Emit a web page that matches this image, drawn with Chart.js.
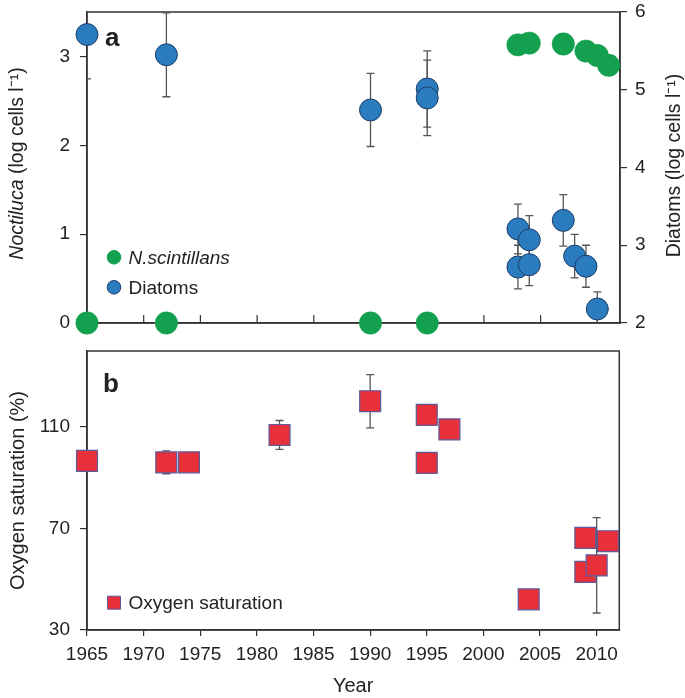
<!DOCTYPE html>
<html>
<head>
<meta charset="utf-8">
<script src="https://cdn.jsdelivr.net/npm/chart.js@4.4.1/dist/chart.umd.min.js"></script>
<style>
  html, body { margin: 0; padding: 0; background: #fff; }
  #wrap { position: relative; width: 685px; height: 698px; }
  .panel { position: absolute; left: 0; width: 685px; }
  #topBox { top: 0; height: 340px; }
  #botBox { top: 335px; height: 363px; }
</style>
</head>
<body>
<div id="wrap">
  <div class="panel" id="topBox"><canvas id="topChart"></canvas></div>
  <div class="panel" id="botBox"><canvas id="botChart"></canvas></div>
</div>
<script>
// panel a: Noctiluca (left axis) and diatoms (right axis)
const noctiYears  = [1965, 1972, 1990, 1995, 2003, 2004, 2007, 2009, 2010, 2011];
const noctiValues = [0, 0, 0, 0, 3.13, 3.15, 3.14, 3.06, 3.01, 2.90];

const diatomYears  = [1965, 1972, 1990, 1995, 1995, 2003, 2003, 2004, 2004, 2007, 2008, 2009, 2010];
const diatomValues = [5.71, 5.45, 4.74, 5.01, 4.895, 3.21, 2.72, 3.07, 2.75, 3.32, 2.86, 2.73, 2.18];
const diatomErrors = [0.57, 0.54, 0.47, 0.49, 0.485, 0.32, 0.28, 0.31, 0.27, 0.33, 0.28, 0.27, 0.22];

// panel b: oxygen saturation
const oxyYears  = [1965, 1972, 1974, 1982, 1990, 1995, 1995, 1997, 2004, 2009, 2009, 2010, 2011];
const oxyValues = [96.7, 96.1, 96.1, 106.9, 120.2, 114.8, 95.9, 109.1, 42.1, 66.3, 52.9, 55.5, 65.0];
const oxyErrors = [0, 4.5, 0, 5.7, 10.5, 0, 0, 0, 0, 0, 0, 18.8, 0];

const yearTicks   = [1965, 1970, 1975, 1980, 1985, 1990, 1995, 2000, 2005, 2010];
const noctiTicks  = [0, 1, 2, 3];
const diatomTicks = [2, 3, 4, 5, 6];
const oxyTicks    = [30, 70, 110];

const FONT = "'Liberation Sans', Arial, Helvetica, sans-serif";
const AXIS = "#333";
const TEXT = "#222";
const GREEN = "#13a04f";
const BLUE = "#2b7bbf";
const BLUE_EDGE = "#1b3d68";
const RED = "#e8303a";
const RED_EDGE = "#5d5a9c";

Chart.defaults.font.family = FONT;
Chart.defaults.font.size = 19;
Chart.defaults.color = TEXT;

const toPoints = (xs, ys) => xs.map((x, i) => ({ x, y: ys[i] }));
const setTicks = list => scale => { scale.ticks = list.map(v => ({ value: v })); };
const fixW = w => scale => { scale.width = w; scale.paddingTop = 0; scale.paddingBottom = 0; };
const fixH = h => scale => { scale.height = h; scale.paddingLeft = 0; scale.paddingRight = 0; };
const plain = v => String(v);

const yAxis = (pos, min, max, ticks, width, pad) => ({
    type: "linear", position: pos, min, max,
    afterBuildTicks: setTicks(ticks),
    afterFit: fixW(width),
    grid: { drawOnChartArea: false, tickLength: 7, color: AXIS, lineWidth: 1.2 },
    border: { color: AXIS, width: 1.5 },
    ticks: { padding: pad, color: TEXT, callback: plain }
});

// error bars, frame, inner ticks, labels, legend
const decorPlugin = {
    id: "decor",
    beforeDatasetsDraw(chart, args, opts) {
        const { ctx, chartArea: a } = chart;
        ctx.save();
        ctx.strokeStyle = AXIS;
        ctx.lineWidth = 1.5;
        ctx.strokeRect(a.left, a.top, a.right - a.left, a.bottom - a.top);

        if (opts.innerTicks) {
            const xs = chart.scales.x;
            ctx.lineWidth = 1.2;
            yearTicks.slice(1).forEach(v => {
                const px = xs.getPixelForValue(v);
                ctx.beginPath();
                ctx.moveTo(px, a.bottom);
                ctx.lineTo(px, a.bottom - 8);
                ctx.stroke();
            });
        }

        // error bars behind the markers
        ctx.beginPath();
        ctx.rect(a.left, a.top, a.right - a.left, a.bottom - a.top);
        ctx.clip();
        ctx.strokeStyle = "#555";
        ctx.lineWidth = 1.3;
        chart.data.datasets.forEach((ds, di) => {
            if (!ds.errors) return;
            const meta = chart.getDatasetMeta(di);
            const ys = chart.scales[ds.yAxisID];
            ds.data.forEach((p, i) => {
                const e = ds.errors[i];
                if (!e) return;
                const px = meta.data[i].x;
                const top = ys.getPixelForValue(p.y + e);
                const bot = ys.getPixelForValue(p.y - e);
                ctx.beginPath();
                ctx.moveTo(px, top); ctx.lineTo(px, bot);
                ctx.moveTo(px - 4, top); ctx.lineTo(px + 4, top);
                ctx.moveTo(px - 4, bot); ctx.lineTo(px + 4, bot);
                ctx.stroke();
            });
        });
        ctx.restore();
    },
    afterDraw(chart, args, opts) {
        const { ctx, chartArea: a } = chart;
        ctx.save();
        ctx.fillStyle = TEXT;

        // panel letter
        ctx.font = `bold 26px ${FONT}`;
        ctx.textBaseline = "alphabetic";
        ctx.textAlign = "left";
        ctx.fillText(opts.letter.text, a.left + opts.letter.dx, a.top + opts.letter.dy);

        // rotated titles with mixed styles
        (opts.titles || []).forEach(t => {
            ctx.save();
            ctx.translate(t.x, (a.top + a.bottom) / 2 + t.dy);
            ctx.rotate(-Math.PI / 2);
            let total = 0;
            t.parts.forEach(p => { ctx.font = p.font; p.w = ctx.measureText(p.text).width; total += p.w; });
            let cx = -total / 2;
            ctx.textBaseline = "middle";
            ctx.textAlign = "left";
            t.parts.forEach(p => { ctx.font = p.font; ctx.fillText(p.text, cx, 0); cx += p.w; });
            ctx.restore();
        });

        // legend
        opts.legend.forEach(item => {
            const mx = a.left + 27, my = a.bottom + item.dy;
            ctx.beginPath();
            if (item.shape === "rect") ctx.rect(mx - 6.5, my - 6.5, 13, 13);
            else ctx.arc(mx, my, 6.8, 0, Math.PI * 2);
            ctx.fillStyle = item.fill;
            ctx.fill();
            ctx.lineWidth = 1;
            ctx.strokeStyle = item.edge;
            ctx.stroke();
            ctx.fillStyle = TEXT;
            ctx.font = item.font;
            ctx.textBaseline = "middle";
            ctx.fillText(item.label, a.left + 41.5, my + 1);
        });
        ctx.restore();
    }
};

// Top chart (panel a)
new Chart(document.getElementById("topChart"), {
    type: "scatter",
    data: {
        datasets: [
            {
                label: "N.scintillans", yAxisID: "yL",
                data: toPoints(noctiYears, noctiValues),
                pointRadius: 11.2, backgroundColor: GREEN, borderColor: GREEN, borderWidth: 0.5,
                clip: false
            },
            {
                label: "Diatoms", yAxisID: "yR",
                data: toPoints(diatomYears, diatomValues), errors: diatomErrors,
                pointRadius: 11, backgroundColor: BLUE, borderColor: BLUE_EDGE, borderWidth: 1,
                clip: false
            }
        ]
    },
    options: {
        animation: false, responsive: true, maintainAspectRatio: false, events: [],
        layout: { padding: { top: 9, left: 0, right: 0, bottom: 0 } },
        scales: {
            x: {
                type: "linear", min: 1965, max: 2012,
                afterBuildTicks: setTicks(yearTicks),
                afterFit: fixH(17),
                grid: { display: false },
                border: { color: AXIS, width: 1.5 },
                ticks: { display: false }
            },
            yL: yAxis("left", 0, 3.5, noctiTicks, 87, 10),
            yR: yAxis("right", 2, 6, diatomTicks, 65, 8)
        },
        plugins: {
            legend: { display: false },
            tooltip: { enabled: false },
            decor: {
                innerTicks: true,
                letter: { text: "a", dx: 18, dy: 34 },
                titles: [
                    { x: 18, dy: -4, parts: [
                        { text: "Noctiluca", font: `italic 19.5px ${FONT}` },
                        { text: " (log cells l\u207B\u00B9)", font: `19.5px ${FONT}` }
                    ] },
                    { x: 675, dy: -2, parts: [
                        { text: "Diatoms (log cells l\u207B\u00B9)", font: `19.5px ${FONT}` }
                    ] }
                ],
                legend: [
                    { label: "N.scintillans", fill: GREEN, edge: GREEN, dy: -65.7, font: `italic 19px ${FONT}` },
                    { label: "Diatoms", fill: BLUE, edge: BLUE_EDGE, dy: -35.7, font: `19px ${FONT}` }
                ]
            }
        }
    },
    plugins: [decorPlugin]
});

// Bottom chart (panel b)
new Chart(document.getElementById("botChart"), {
    type: "scatter",
    data: {
        datasets: [{
            label: "Oxygen saturation", yAxisID: "y",
            data: toPoints(oxyYears, oxyValues), errors: oxyErrors,
            pointStyle: "rect", pointRadius: 14.8,
            backgroundColor: RED, borderColor: RED_EDGE, borderWidth: 1.2,
            clip: false
        }]
    },
    options: {
        animation: false, responsive: true, maintainAspectRatio: false, events: [],
        layout: { padding: { top: 9.3, left: 0, right: 65.7, bottom: 0 } },
        scales: {
            x: {
                type: "linear", min: 1965, max: 2012,
                afterBuildTicks: setTicks(yearTicks),
                afterFit: fixH(68),
                grid: { drawOnChartArea: false, tickLength: 6, color: AXIS, lineWidth: 1.2 },
                border: { color: AXIS, width: 1.5 },
                ticks: { padding: 7, color: TEXT, callback: plain },
                title: { display: true, text: "Year", font: { size: 20 }, padding: { top: 0, bottom: 0 }, color: TEXT }
            },
            y: Object.assign(yAxis("left", 30, 140, oxyTicks, 87, 10), {
                title: { display: true, text: "Oxygen saturation (%)", font: { size: 20 }, padding: { top: 6, bottom: 0 }, color: TEXT }
            })
        },
        plugins: {
            legend: { display: false },
            tooltip: { enabled: false },
            decor: {
                innerTicks: false,
                letter: { text: "b", dx: 16, dy: 41 },
                titles: [],
                legend: [
                    { label: "Oxygen saturation", fill: RED, edge: RED_EDGE, dy: -27.3, font: `19px ${FONT}`, shape: "rect" }
                ]
            }
        }
    },
    plugins: [decorPlugin]
});
</script>
</body>
</html>
